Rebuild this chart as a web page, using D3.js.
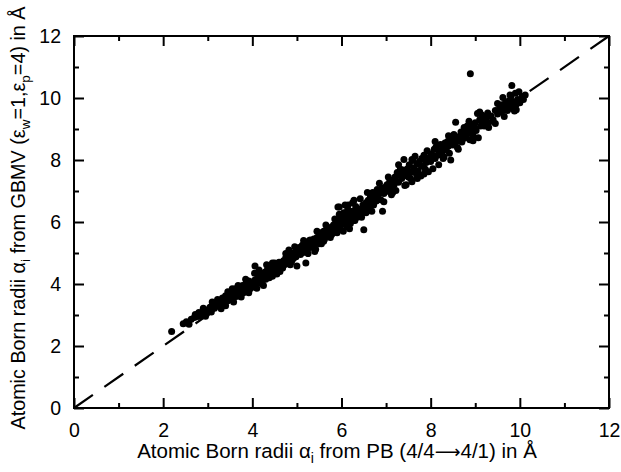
<!DOCTYPE html>
<html>
<head>
<meta charset="utf-8">
<script src="https://cdn.jsdelivr.net/npm/d3@7"></script>
<style>
  body { margin: 0; background: #fff; }
  text { font-family: "Liberation Sans", Arial, sans-serif; fill: #000; }
</style>
</head>
<body>
<svg id="chart" width="621" height="472"></svg>
<script>
// Born radii: [PB (4/4->4/1), GBMV (ew=1, ep=4)] in Angstrom
const radiiUnder4 = [
  [2.19,2.47],[2.45,2.72],[2.52,2.78],[2.58,2.70],[2.63,2.86],[2.70,2.92],[2.72,3.02],[2.78,2.95],
  [2.80,3.08],[2.85,2.98],[2.88,3.04],[2.92,3.12],[2.95,2.96],[2.98,3.06],
  [3.02,3.18],[3.05,3.25],[3.08,3.10],[3.12,3.30],[3.15,3.22],[3.18,3.36],[3.20,3.28],[3.24,3.45],
  [3.26,3.32],[3.30,3.40],[3.33,3.55],[3.35,3.48],[3.38,3.38],[3.40,3.62],[3.42,3.52],[3.45,3.46],
  [3.48,3.70],[3.50,3.58],[3.52,3.66],[3.55,3.50],[3.57,3.78],[3.60,3.68],[3.62,3.85],[3.64,3.60],
  [3.67,3.74],[3.70,3.88],[3.72,3.66],[3.75,3.80],[3.78,3.95],[3.80,3.72],[3.82,3.86],[3.85,3.98],
  [3.88,3.82],[3.90,3.92],[3.92,4.10],[3.95,3.85],[3.97,3.98],[3.99,4.05],
  [3.10,3.42],[3.30,3.20],[3.45,3.75],[3.58,3.42],[3.68,3.95],[3.75,3.58],[3.85,4.15],[3.92,3.72],
  [3.55,3.85],[3.22,3.50],[2.90,3.22],[3.40,3.30]
];
const radii4to6 = [
  [4.02,3.90],[4.05,4.12],[4.08,4.00],[4.10,3.86],[4.12,4.20],[4.15,4.05],[4.18,4.30],[4.20,4.10],
  [4.22,4.00],[4.25,4.25],[4.28,4.38],[4.30,4.15],[4.32,4.62],[4.35,4.30],[4.38,4.20],[4.40,4.45],
  [4.42,4.35],[4.45,4.25],[4.48,4.55],[4.50,4.42],[4.52,4.34],[4.55,4.60],[4.58,4.48],[4.60,4.70],
  [4.62,4.40],[4.65,4.58],[4.68,4.52],[4.70,4.75],[4.72,4.62],[4.75,4.85],[4.78,4.66],[4.80,4.78],
  [4.82,5.10],[4.85,4.90],[4.88,4.72],[4.90,4.95],[4.92,4.82],[4.95,5.02],[4.98,4.88],[4.68,4.62],
  [4.50,4.68],[4.32,4.42],[4.58,4.58],[4.40,4.30],[5.00,4.58],[5.20,4.68],[4.06,4.58],
  [5.02,5.05],[5.05,5.18],[5.08,4.95],[5.10,5.12],[5.12,5.25],[5.15,5.02],[5.18,5.20],[5.20,5.32],
  [5.22,5.10],[5.25,5.28],[5.28,5.40],[5.30,5.18],[5.32,5.35],[5.35,5.25],[5.38,5.45],[5.40,5.30],
  [5.42,5.12],[5.45,5.50],[5.48,5.38],[5.50,5.56],[5.52,5.42],[5.55,5.65],[5.58,5.52],[5.60,5.70],
  [5.62,5.45],[5.65,5.62],[5.68,5.75],[5.70,5.58],[5.72,5.70],[5.75,5.82],[5.78,5.60],[5.80,5.75],
  [5.82,5.90],[5.85,5.68],[5.88,5.85],[5.90,6.00],[5.92,6.48],[5.95,6.48],[5.97,5.80],[5.98,6.10],
  [5.40,5.05],[5.60,5.38],[5.30,5.42],[5.50,5.30],
  [4.15,4.45],[4.25,3.95],[4.45,4.68],[4.55,4.32],[4.75,4.98],[4.85,4.62],[4.95,5.20],[5.15,5.40],
  [5.25,4.98],[5.45,5.70],[5.55,5.30],[5.65,5.90],[5.75,5.50],[5.85,6.10],[5.90,5.65],[5.95,6.25],
  [4.05,4.35],[4.35,4.55]
];
const radii6to8 = [
  [6.00,5.92],[6.02,6.15],[6.04,5.70],[6.05,6.30],[6.08,6.02],[6.10,6.22],[6.12,5.85],[6.14,6.40],
  [6.15,6.08],[6.18,6.25],[6.20,5.95],[6.22,6.18],[6.25,6.35],[6.27,6.05],[6.30,6.28],[6.32,6.50],
  [6.35,6.15],[6.38,6.42],[6.40,6.25],[6.42,6.75],[6.45,6.35],[6.48,6.55],[6.50,5.75],[6.52,6.45],
  [6.55,6.62],[6.58,6.40],[6.60,6.70],[6.62,6.52],[6.65,6.82],[6.68,6.60],[6.70,6.75],[6.72,6.55],
  [6.75,6.90],[6.78,6.68],[6.80,7.05],[6.82,6.80],[6.85,6.95],[6.88,6.72],[6.90,7.10],[6.92,6.35],
  [6.95,6.92],[6.98,7.12],[6.15,6.55],[6.30,6.05],[6.55,6.30],[6.05,5.98],[6.25,6.62],[6.70,6.95],
  [7.00,6.98],[7.02,7.20],[7.05,7.05],[7.08,7.30],[7.10,7.12],[7.12,6.88],[7.15,7.35],[7.18,7.20],
  [7.20,7.45],[7.22,7.02],[7.25,7.60],[7.28,7.28],[7.30,7.50],[7.32,7.70],[7.35,7.40],[7.38,7.68],
  [7.40,8.02],[7.42,7.55],[7.45,7.20],[7.48,7.72],[7.50,7.45],[7.52,7.85],[7.55,7.60],[7.58,7.30],
  [7.60,7.98],[7.62,7.75],[7.65,8.12],[7.68,7.55],[7.70,7.88],[7.72,7.65],[7.75,7.95],[7.78,7.48],
  [7.80,8.05],[7.82,7.80],[7.85,8.15],[7.88,7.70],[7.90,7.92],[7.92,8.02],[7.95,7.62],[7.98,8.10],
  [7.45,7.50],[7.35,7.58],[7.55,7.40],
  [6.08,6.55],[6.18,5.78],[6.28,6.70],[6.45,6.15],[6.58,6.95],[6.68,6.35],[6.85,7.25],[6.95,6.65],
  [7.05,7.45],[7.15,6.95],[7.28,7.85],[7.42,7.18],[7.58,8.02],[7.70,7.40],[7.85,7.55],[7.92,8.30]
];
const radii8up = [
  [8.00,7.95],[8.02,8.20],[8.05,7.72],[8.08,8.35],[8.10,8.05],[8.12,8.42],[8.15,8.15],[8.18,7.85],
  [8.20,8.30],[8.22,8.50],[8.25,8.20],[8.28,8.40],[8.30,8.10],[8.32,8.55],[8.35,8.32],[8.38,8.60],
  [8.40,8.45],[8.42,8.22],[8.45,8.00],[8.48,8.65],[8.50,8.48],[8.52,8.82],[8.55,8.55],[8.56,9.22],
  [8.58,8.70],[8.60,8.40],[8.62,8.75],[8.65,8.62],[8.68,8.90],[8.70,8.58],[8.72,8.85],[8.75,8.70],
  [8.78,9.00],[8.80,8.75],[8.82,9.10],[8.85,8.88],[8.86,9.25],[8.88,8.65],[8.89,10.78],[8.90,8.95],
  [8.92,9.12],[8.95,8.80],[8.98,9.05],
  [9.00,9.20],[9.02,8.95],[9.05,9.50],[9.07,8.72],[9.10,9.30],[9.12,9.10],[9.15,9.45],[9.18,9.25],
  [9.20,9.10],[9.25,9.35],[9.28,9.52],[9.30,9.20],[9.35,9.42],[9.40,9.30],[9.45,9.18],[9.45,9.60],
  [9.50,9.48],[9.55,9.70],[9.58,9.55],[9.60,9.78],[9.62,10.02],[9.65,9.62],[9.68,9.85],[9.70,9.70],
  [9.72,9.60],[9.75,9.90],[9.78,9.75],[9.80,10.05],[9.82,10.40],[9.84,9.65],[9.86,9.88],[9.88,9.58],
  [9.90,10.15],[9.92,9.80],[9.95,9.95],[9.98,10.20],[10.00,9.85],[10.05,10.05],[10.08,9.95],[10.12,10.10],
  [8.10,8.60],[8.28,8.05],[8.40,8.78],[8.62,8.35],[8.75,9.05],[8.95,8.62],[9.10,9.55],[9.30,9.05],
  [9.50,9.82],[9.65,9.40],[9.78,10.10],[9.92,9.62]
];

const axisDomain = [0, 12];
const majorTicks = [0, 2, 4, 6, 8, 10, 12];
const minorTicks = [1, 3, 5, 7, 9, 11];

const svg = d3.select("#chart");

// plot frame
const x = d3.scaleLinear().domain(axisDomain).range([74, 609]);
const y = d3.scaleLinear().domain(axisDomain).range([408, 36]);

// 四条边的刻度（朝内）
function addAxis(axis, tf, withLabels) {
  const g = svg.append("g").attr("transform", tf).call(axis);
  g.select(".domain").remove();
  g.selectAll("line").attr("stroke", "#000").attr("stroke-width", 2);
  g.selectAll("text").attr("font-size", "19.5px").attr("fill", "#000")
    .style("font-family", "'Liberation Sans', Arial, sans-serif");
  if (!withLabels) g.selectAll("text").remove();
  return g;
}

addAxis(d3.axisBottom(x).tickValues(majorTicks).tickSize(-10).tickPadding(15).tickFormat(d3.format("d")), "translate(0,408)", true);
addAxis(d3.axisBottom(x).tickValues(minorTicks).tickSize(-5), "translate(0,408)", false);
addAxis(d3.axisTop(x).tickValues(majorTicks).tickSize(-10), "translate(0,36)", false);
addAxis(d3.axisTop(x).tickValues(minorTicks).tickSize(-5), "translate(0,36)", false);
addAxis(d3.axisLeft(y).tickValues(majorTicks).tickSize(-10).tickPadding(13).tickFormat(d3.format("d")), "translate(74,0)", true);
addAxis(d3.axisLeft(y).tickValues(minorTicks).tickSize(-5), "translate(74,0)", false);
addAxis(d3.axisRight(y).tickValues(majorTicks).tickSize(-10), "translate(609,0)", false);
addAxis(d3.axisRight(y).tickValues(minorTicks).tickSize(-5), "translate(609,0)", false);

// y = x reference line
svg.append("line")
  .attr("x1", x(0)).attr("y1", y(0))
  .attr("x2", x(12)).attr("y2", y(12))
  .attr("stroke", "#000")
  .attr("stroke-width", 2.2)
  .attr("stroke-dasharray", "23,14");

// points
const allRadii = [].concat(radiiUnder4, radii4to6, radii6to8, radii8up);
svg.append("g")
  .selectAll("circle")
  .data(allRadii)
  .join("circle")
  .attr("cx", d => x(d[0]))
  .attr("cy", d => y(d[1]))
  .attr("r", 3.5)
  .attr("fill", "#000");

svg.append("rect")
  .attr("x", x(0)).attr("y", y(12))
  .attr("width", x(12) - x(0)).attr("height", y(0) - y(12))
  .attr("fill", "none")
  .attr("stroke", "#000")
  .attr("stroke-width", 2);

// axis titles
const xTitle = svg.append("text")
  .attr("x", 337).attr("y", 458)
  .attr("text-anchor", "middle")
  .attr("font-size", "20.5px");
xTitle.append("tspan").text("Atomic Born radii α");
xTitle.append("tspan").attr("font-size", "14px").attr("dy", 5).text("i");
xTitle.append("tspan").attr("dy", -5).text(" from PB (4/4");
xTitle.append("tspan").style("font-family", "'DejaVu Sans', sans-serif").attr("font-size", "18px").text("\u27F6");
xTitle.append("tspan").text("4/1) in Å");

const yTitle = svg.append("text")
  .attr("transform", "translate(25,218) rotate(-90)")
  .attr("text-anchor", "middle")
  .attr("font-size", "19.8px");
yTitle.append("tspan").text("Atomic Born radii α");
yTitle.append("tspan").attr("font-size", "13.5px").attr("dy", 5).text("i");
yTitle.append("tspan").attr("dy", -5).text(" from GBMV (ε");
yTitle.append("tspan").attr("font-size", "13.5px").attr("dy", 5).text("w");
yTitle.append("tspan").attr("dy", -5).text("=1,ε");
yTitle.append("tspan").attr("font-size", "13.5px").attr("dy", 5).text("p");
yTitle.append("tspan").attr("dy", -5).text("=4) in Å");
</script>
</body>
</html>
